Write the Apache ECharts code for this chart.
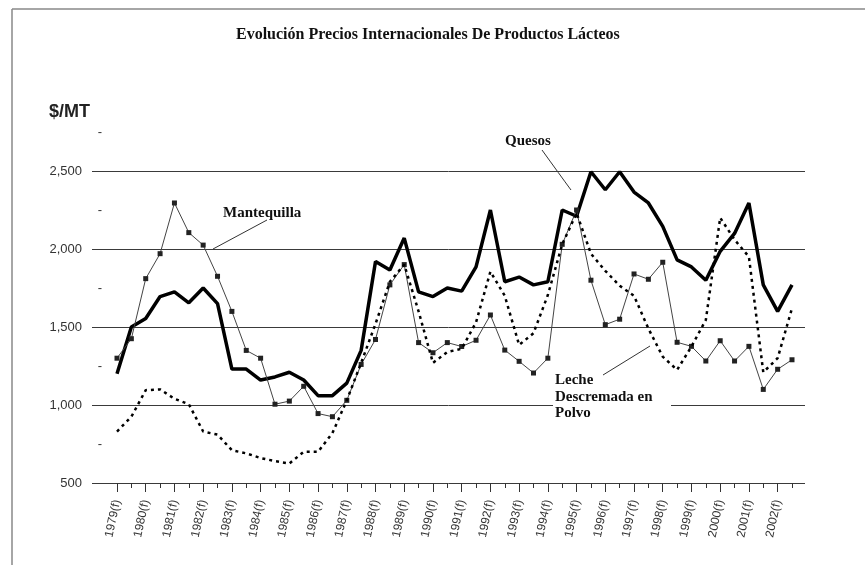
<!DOCTYPE html>
<html><head><meta charset="utf-8">
<script src="https://cdn.jsdelivr.net/npm/echarts@6/dist/echarts.min.js"></script>
<style>html,body{margin:0;padding:0;background:#fff}#c{width:865px;height:565px}</style>
</head><body><div id="c"></div>
<script>
// ---- data ----
const years = [1979,1980,1981,1982,1983,1984,1985,1986,1987,1988,1989,1990,1991,1992,1993,1994,1995,1996,1997,1998,1999,2000,2001,2002];
const periods = [];
years.forEach(y => { periods.push(y + '-1'); periods.push(y + '-2'); });

const quesos = [1200,1500,1555,1695,1725,1655,1750,1650,1230,1230,1160,1180,1210,1160,1060,1060,
                1140,1350,1920,1865,2070,1725,1695,1750,1730,1885,2250,1790,1820,1770,1790,2250,
                2210,2495,2380,2495,2365,2295,2145,1930,1885,1800,1985,2100,2295,1770,1600,1770];
const mantequilla = [1300,1425,1810,1970,2295,2105,2025,1825,1600,1350,1300,1005,1025,1120,945,925,
                1030,1260,1420,1770,1900,1400,1335,1400,1375,1415,1577,1352,1280,1205,1300,2030,
                2250,1800,1515,1550,1840,1806,1915,1402,1376,1282,1412,1282,1376,1100,1229,1290];
const leche = [830,925,1095,1100,1040,1005,830,810,710,690,660,640,625,700,700,820,
                1030,1270,1520,1790,1900,1600,1270,1340,1360,1530,1855,1700,1385,1460,1705,2030,
                2230,1970,1860,1765,1700,1490,1310,1225,1375,1545,2200,2060,1950,1210,1300,1620];
const yMin = 500, yMax = 2750, yStep = 500, yHalfStep = 250;

const chart = echarts.init(document.getElementById('c'), null, {renderer: 'canvas'});
const SANS = 'Liberation Sans';
const SERIF = 'Liberation Serif';
const G0 = {left: 92, right: 60, top: 132, bottom: 82};
const G1 = {left: 117, right: 73, top: 132, bottom: 82};

chart.setOption({
  animation: false,
  backgroundColor: '#fff',
  title: {
    text: 'Evolución Precios Internacionales De Productos Lácteos',
    left: 231, top: 22,
    textStyle: {fontFamily: SERIF, fontWeight: 'bold', fontSize: 16, color: '#111'}
  },
  grid: [G0, G1],
  xAxis: [
    {gridIndex: 0, type: 'value', min: 0, max: 1, show: false},
    {gridIndex: 1, type: 'category', position: 'bottom', data: periods, boundaryGap: false,
     axisLine: {show: false},
     axisTick: {show: true, interval: 0, length: 5, lineStyle: {color: '#333'}},
     axisLabel: {interval: 0, rotate: 78, margin: 17, fontSize: 12, color: '#333', fontFamily: SANS,
       formatter: v => v.endsWith('-1') ? v.slice(0, 4) + '(f)' : ''},
     splitLine: {show: false}},
    {gridIndex: 1, type: 'category', position: 'bottom', data: periods, boundaryGap: false,
     axisLine: {show: false},
     axisTick: {show: true, interval: 1, length: 9, lineStyle: {color: '#333'}},
     axisLabel: {show: false}, splitLine: {show: false}}
  ],
  yAxis: [
    {gridIndex: 0, type: 'value', position: 'left', min: yMin, max: yMax, interval: yStep,
     axisLine: {show: false}, axisTick: {show: false},
     splitLine: {show: true, showMaxLine: false, lineStyle: {color: '#3a3a3a', width: 1}},
     axisLabel: {margin: 10, fontSize: 13, color: '#333', fontFamily: SANS, showMaxLabel: false,
       formatter: v => v.toLocaleString('en-US')},
     name: '$/MT', nameLocation: 'end', nameGap: 11,
     nameTextStyle: {align: 'right', verticalAlign: 'bottom', fontFamily: SANS, fontWeight: 'bold',
       fontSize: 18, color: '#222', padding: [0, 2, 0, 0]}},
    {gridIndex: 0, type: 'value', position: 'left', min: yMin, max: yMax, interval: yHalfStep, offset: -18,
     axisLine: {show: false}, axisTick: {show: false}, splitLine: {show: false},
     axisLabel: {margin: 8, fontSize: 13, color: '#333', fontFamily: SANS,
       formatter: v => ((v - yHalfStep) % yStep === 0 ? '-' : '')}},
    {gridIndex: 1, type: 'value', position: 'left', min: yMin, max: yMax, show: false}
  ],
  series: [
    {name: 'Quesos', type: 'line', xAxisIndex: 1, yAxisIndex: 2, data: quesos, symbol: 'none',
     lineStyle: {color: '#000', width: 3.5}, z: 3},
    {name: 'Mantequilla', type: 'line', xAxisIndex: 1, yAxisIndex: 2, data: mantequilla,
     symbol: 'rect', symbolSize: 5, itemStyle: {color: '#222'},
     lineStyle: {color: '#444', width: 1}, z: 4},
    {name: 'Leche Descremada en Polvo', type: 'line', xAxisIndex: 1, yAxisIndex: 2, data: leche,
     symbol: 'none', lineStyle: {color: '#000', width: 2.5, type: [3, 4]}, z: 5}
  ],
  graphic: [
    {type: 'line', z: 1, shape: {x1: 12, y1: 9, x2: 865, y2: 9}, style: {stroke: '#888', lineWidth: 1.5}},
    {type: 'line', z: 1, shape: {x1: 12, y1: 9, x2: 12, y2: 565}, style: {stroke: '#888', lineWidth: 1.5}},
    {type: 'rect', z: 10, shape: {x: 553, y: 399, width: 118, height: 11}, style: {fill: '#fff'}},
    {type: 'text', z: 11, style: {text: 'Mantequilla', x: 223, y: 213, textVerticalAlign: 'middle',
      fontFamily: SERIF, fontWeight: 'bold', fontSize: 15, fill: '#111'}},
    {type: 'line', z: 11, shape: {x1: 213, y1: 249, x2: 267, y2: 220}, style: {stroke: '#333', lineWidth: 1}},
    {type: 'text', z: 11, style: {text: 'Quesos', x: 505, y: 141, textVerticalAlign: 'middle',
      fontFamily: SERIF, fontWeight: 'bold', fontSize: 15, fill: '#111'}},
    {type: 'bezierCurve', z: 11, shape: {x1: 542, y1: 150, cpx1: 560, cpy1: 175, x2: 571, y2: 190},
      style: {stroke: '#333', lineWidth: 1, fill: null}},
    {type: 'text', z: 11, style: {text: 'Leche\nDescremada en\nPolvo', x: 555, y: 372, textVerticalAlign: 'top',
      lineHeight: 16.5, fontFamily: SERIF, fontWeight: 'bold', fontSize: 15, fill: '#111'}},
    {type: 'line', z: 11, shape: {x1: 603, y1: 375, x2: 650, y2: 346}, style: {stroke: '#333', lineWidth: 1}}
  ]
});
</script>
</body></html>
